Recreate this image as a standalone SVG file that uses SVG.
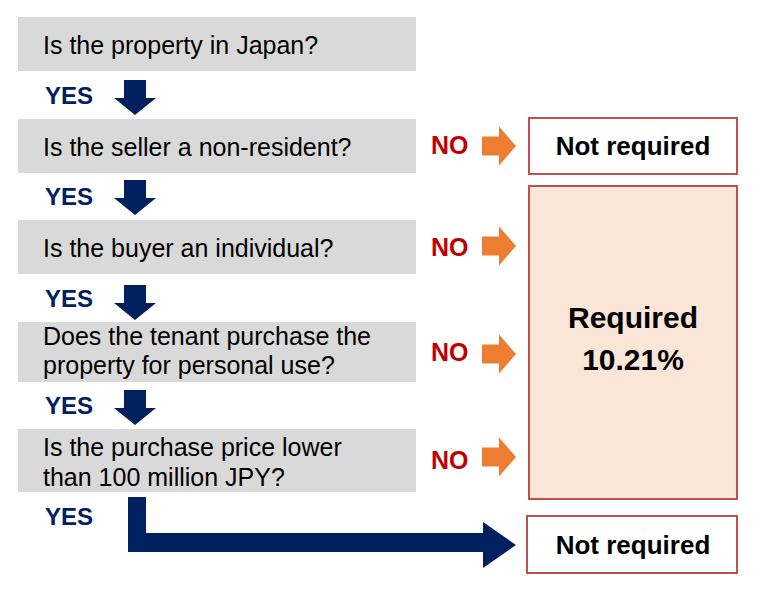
<svg xmlns="http://www.w3.org/2000/svg" width="768" height="596" viewBox="0 0 768 596">
<defs>
<style>
.q{fill:#d9d9d9}
.qt{font-family:"Liberation Sans",Arial,sans-serif;font-size:25px;fill:#000}
.yes{font-family:"Liberation Sans",Arial,sans-serif;font-size:24px;font-weight:bold;fill:#002060}
.no{font-family:"Liberation Sans",Arial,sans-serif;font-size:25px;font-weight:bold;fill:#c00000}
.res{stroke:#c0504d;stroke-width:2}
.rt{font-family:"Liberation Sans",Arial,sans-serif;font-weight:bold;fill:#000;text-anchor:middle}
.down{fill:#002060}
.right{fill:#ed7d31}
</style>
<path id="dn" d="M-11,0 H11 V18 H21 L0,35 L-21,18 H-11 Z"/>
<path id="rt" d="M0,-9.5 H17 V-19.5 L34,0 L17,19.5 V9.5 H0 Z"/>
</defs>
<rect width="768" height="596" fill="#fff"/>
<g id="q1"><rect class="q" x="18" y="17" width="398" height="54"/><text class="qt" x="43" y="54">Is the property in Japan?</text></g>
<g id="q2"><rect class="q" x="18" y="119" width="398" height="54"/><text class="qt" x="43" y="156">Is the seller a non-resident?</text></g>
<g id="q3"><rect class="q" x="18" y="220" width="398" height="54"/><text class="qt" x="43" y="257">Is the buyer an individual?</text></g>
<g id="q4"><rect class="q" x="18" y="322" width="398" height="60"/><text class="qt" x="43" y="345">Does the tenant purchase the</text><text class="qt" x="43" y="374">property for personal use?</text></g>
<g id="q5"><rect class="q" x="18" y="429" width="398" height="63"/><text class="qt" x="43" y="456">Is the purchase price lower</text><text class="qt" x="43" y="486">than 100 million JPY?</text></g>
<g id="r1"><rect class="res" x="529" y="118" width="208" height="56" fill="#fff"/><text class="rt" x="633" y="155" font-size="26">Not required</text></g>
<g id="r2"><rect class="res" x="529" y="186" width="208" height="313" fill="#fbe5d6"/><text class="rt" x="633" y="328" font-size="30">Required</text><text class="rt" x="633" y="370" font-size="30">10.21%</text></g>
<g id="r3"><rect class="res" x="527" y="516" width="210" height="57" fill="#fff"/><text class="rt" x="633" y="554" font-size="26">Not required</text></g>
<g id="connectors">
<text class="yes" x="45" y="104">YES</text>
<text class="yes" x="45" y="205">YES</text>
<text class="yes" x="45" y="307">YES</text>
<text class="yes" x="45" y="414">YES</text>
<text class="yes" x="45" y="525">YES</text>
<use href="#dn" class="down" x="135" y="80"/>
<use href="#dn" class="down" x="135" y="180"/>
<use href="#dn" class="down" x="135" y="285"/>
<use href="#dn" class="down" x="135" y="390"/>
<text class="no" x="431" y="154">NO</text>
<text class="no" x="431" y="256">NO</text>
<text class="no" x="431" y="361">NO</text>
<text class="no" x="431" y="469">NO</text>
<use href="#rt" class="right" x="482" y="146"/>
<use href="#rt" class="right" x="482" y="246"/>
<use href="#rt" class="right" x="482" y="354"/>
<use href="#rt" class="right" x="482" y="457"/>
<path class="down" d="M128,497 H146 V533 H483 V522 L516,545 L483,568 V552 H128 Z"/>
</g>
</svg>
